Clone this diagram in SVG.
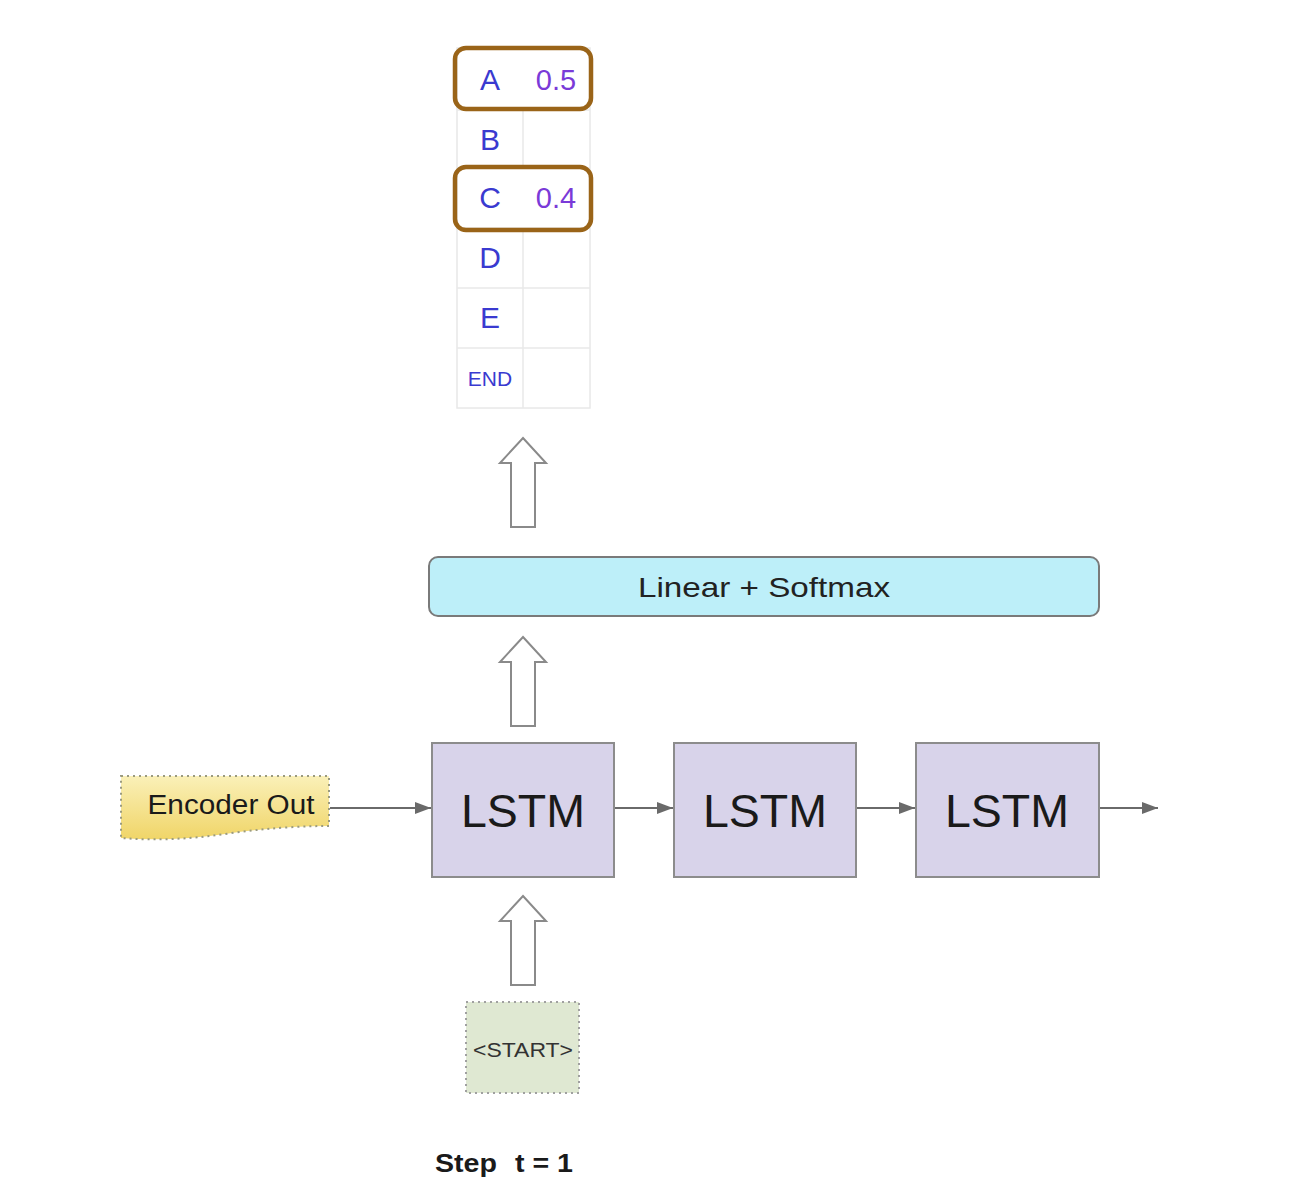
<svg xmlns="http://www.w3.org/2000/svg" width="1312" height="1190" viewBox="0 0 1312 1190">
  <style>
    text { font-family: "Liberation Sans", Arial, sans-serif; }
    .grid { stroke: #e8e8e8; stroke-width: 1.5; fill: none; }
    .tok { fill: #3a3ad0; font-size: 30px; text-anchor: middle; }
    .prob { fill: #7a3ad8; font-size: 29px; text-anchor: middle; }
    .pick { fill: none; stroke: #9a6418; stroke-width: 4.5; }
    .block { fill: #ffffff; stroke: #8a8a8a; stroke-width: 2; }
    .lstm rect { fill: #d8d3ea; stroke: #8c8c8c; stroke-width: 2; }
    .lstm text { font-size: 46px; fill: #1a1a1a; text-anchor: middle; }
    .flow { stroke: #6a6a6a; stroke-width: 2; fill: none; marker-end: url(#tri); }
  </style>
  <defs>
    <marker id="tri" viewBox="0 0 16 12" refX="16" refY="6" markerWidth="16" markerHeight="12" markerUnits="userSpaceOnUse" orient="auto">
      <path d="M0,0 L16,6 L0,12 Z" fill="#6a6a6a"/>
    </marker>
    <linearGradient id="yel" x1="0" y1="0" x2="0" y2="1">
      <stop offset="0" stop-color="#faf0b8"/>
      <stop offset="1" stop-color="#f0d568"/>
    </linearGradient>
    <path id="uparrow" d="M0,0 L23,25 L12,25 L12,89 L-12,89 L-12,25 L-23,25 Z"/>
  </defs>

  <!-- output probability table -->
  <g id="prob-table">
    <rect x="457" y="48" width="133" height="360" class="grid"/>
    <line x1="523" y1="110" x2="523" y2="167" class="grid"/>
    <line x1="523" y1="230" x2="523" y2="408" class="grid"/>
    <line x1="457" y1="110" x2="590" y2="110" class="grid"/>
    <line x1="457" y1="168" x2="590" y2="168" class="grid"/>
    <line x1="457" y1="228" x2="590" y2="228" class="grid"/>
    <line x1="457" y1="288" x2="590" y2="288" class="grid"/>
    <line x1="457" y1="348" x2="590" y2="348" class="grid"/>
    <text x="490" y="90" class="tok">A</text>
    <text x="556" y="90" class="prob">0.5</text>
    <text x="490" y="150" class="tok">B</text>
    <text x="490" y="208" class="tok">C</text>
    <text x="556" y="208" class="prob">0.4</text>
    <text x="490" y="268" class="tok">D</text>
    <text x="490" y="328" class="tok">E</text>
    <text x="490" y="386" class="tok" style="font-size:21px">END</text>
    <rect x="455" y="48" width="136" height="61" rx="11" class="pick"/>
    <rect x="455" y="167" width="136" height="63" rx="11" class="pick"/>
  </g>

  <!-- hollow block arrows -->
  <g id="arrow-top"><use href="#uparrow" x="523" y="438" class="block"/></g>
  <g id="arrow-mid"><use href="#uparrow" x="523" y="637" class="block"/></g>
  <g id="arrow-bottom"><use href="#uparrow" x="523" y="896" class="block"/></g>

  <!-- projection layer -->
  <g id="linear-softmax">
    <rect x="429" y="557" width="670" height="59" rx="9" fill="#bdeff9" stroke="#7a7a7a" stroke-width="2"/>
    <text x="764" y="597" font-size="28" fill="#222" text-anchor="middle" textLength="252" lengthAdjust="spacingAndGlyphs">Linear + Softmax</text>
  </g>

  <!-- recurrent cells -->
  <g id="lstm-1" class="lstm">
    <rect x="432" y="743" width="182" height="134"/>
    <text x="523" y="827" textLength="124" lengthAdjust="spacingAndGlyphs">LSTM</text>
  </g>
  <g id="lstm-2" class="lstm">
    <rect x="674" y="743" width="182" height="134"/>
    <text x="765" y="827" textLength="124" lengthAdjust="spacingAndGlyphs">LSTM</text>
  </g>
  <g id="lstm-3" class="lstm">
    <rect x="916" y="743" width="183" height="134"/>
    <text x="1007" y="827" textLength="124" lengthAdjust="spacingAndGlyphs">LSTM</text>
  </g>

  <!-- encoder context -->
  <g id="encoder-out">
    <path d="M121,776 L329,776 L329,826 Q280,826 225,834 Q170,842 121,838 Z" fill="url(#yel)" stroke="#9a9a80" stroke-width="2" stroke-dasharray="2,4"/>
    <text x="231" y="814" font-size="27" fill="#1a1a1a" text-anchor="middle" textLength="167" lengthAdjust="spacingAndGlyphs">Encoder Out</text>
  </g>

  <!-- decoder input token -->
  <g id="start-token">
    <rect x="466" y="1002" width="113" height="91" fill="#dfe8d2" stroke="#a0a0a0" stroke-width="2" stroke-dasharray="2,4"/>
    <text x="523" y="1057" font-size="20" fill="#333" text-anchor="middle" textLength="100" lengthAdjust="spacingAndGlyphs">&lt;START&gt;</text>
  </g>

  <!-- connectors -->
  <g id="connectors">
    <line x1="330" y1="808" x2="431" y2="808" class="flow"/>
    <line x1="615" y1="808" x2="673" y2="808" class="flow"/>
    <line x1="857" y1="808" x2="915" y2="808" class="flow"/>
    <line x1="1100" y1="808" x2="1158" y2="808" class="flow"/>
  </g>

  <g id="step-label">
    <text y="1172" font-size="26" font-weight="bold" fill="#1a1a1a"><tspan x="435" textLength="62" lengthAdjust="spacingAndGlyphs">Step</tspan><tspan x="515" textLength="58" lengthAdjust="spacingAndGlyphs">t = 1</tspan></text>
  </g>
</svg>
